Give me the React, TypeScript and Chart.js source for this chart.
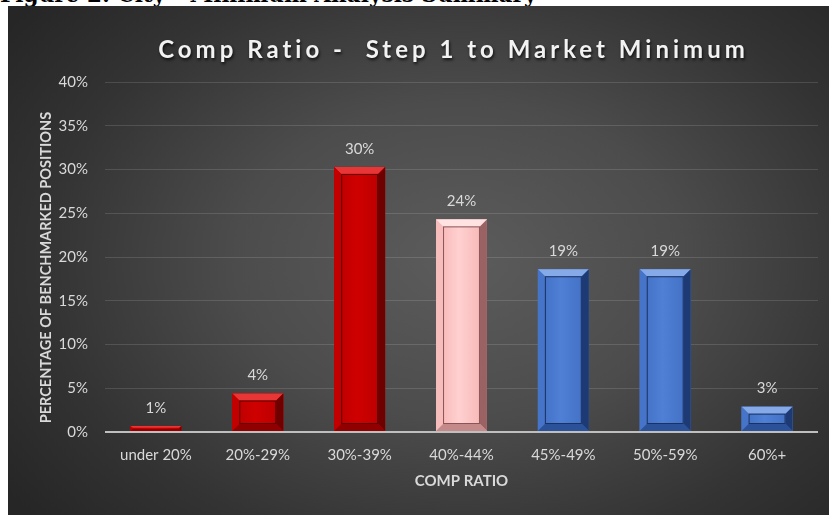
import React, { useEffect, useRef } from "react";
import { Chart, registerables } from "chart.js";

Chart.register(...registerables);

const CAPTION = "Figure 2: City - Minimum Analysis Summary";
const TITLE = "Comp Ratio -  Step 1 to Market Minimum";
const Y_AXIS_TITLE = "PERCENTAGE OF BENCHMARKED POSITIONS";
const X_AXIS_TITLE = "COMP RATIO";

const categories = ["under 20%", "20%-29%", "30%-39%", "40%-44%", "45%-49%", "50%-59%", "60%+"];
const percentValues = [0.7, 4.4, 30.3, 24.3, 18.6, 18.6, 2.9];
const yMin = 0;
const yMax = 40;
const yStep = 5;
const barGroups = ["red", "red", "red", "pink", "blue", "blue", "blue"];

const PALETTE: Record<string, any> = {
  red: { face: "#cf0000", face2: "#b80000", top: "#e83535", left: "#c20000", right: "#6e0000", bottom: "#900000", line: "#5a0000" },
  pink: { face: "#ffd0d0", face2: "#f6b2b2", top: "#ffe2e2", left: "#f7bcbc", right: "#9a6262", bottom: "#c48a8a", line: "#8a5555" },
  blue: { face: "#4f80d6", face2: "#3f6dc0", top: "#86aae8", left: "#4574c8", right: "#1d3a75", bottom: "#2b5198", line: "#1b3261" },
};

const FONT = "Lato, 'Open Sans', sans-serif";

const bevelPlugin = {
  id: "bevelBars",
  afterDatasetsDraw(chart: any) {
    const ctx = chart.ctx;
    const meta = chart.getDatasetMeta(0);
    meta.data.forEach((el: any, i: number) => {
      const p = el.getProps(["x", "y", "base", "width"], true);
      const L = p.x - p.width / 2;
      const R = p.x + p.width / 2;
      const T = Math.min(p.y, p.base);
      const B = Math.max(p.y, p.base);
      const h = B - T;
      const w = R - L;
      const b = Math.max(1.5, Math.min(7, h / 2.6, w / 5));
      const pal = PALETTE[barGroups[i]];
      ctx.save();
      const poly = (pts: number[][], color: string) => {
        ctx.beginPath();
        ctx.moveTo(pts[0][0], pts[0][1]);
        for (let k = 1; k < pts.length; k++) ctx.lineTo(pts[k][0], pts[k][1]);
        ctx.closePath();
        ctx.fillStyle = color;
        ctx.fill();
      };
      const g = ctx.createLinearGradient(L, 0, R, 0);
      g.addColorStop(0, pal.face2);
      g.addColorStop(0.45, pal.face);
      g.addColorStop(1, pal.face2);
      ctx.fillStyle = g;
      ctx.fillRect(L, T, w, h);
      poly([[L, T], [R, T], [R - b, T + b], [L + b, T + b]], pal.top);
      poly([[L, T], [L + b, T + b], [L + b, B - b], [L, B]], pal.left);
      poly([[R, T], [R, B], [R - b, B - b], [R - b, T + b]], pal.right);
      poly([[L, B], [R, B], [R - b, B - b], [L + b, B - b]], pal.bottom);
      if (h > 8) {
        ctx.strokeStyle = pal.line;
        ctx.lineWidth = 1;
        ctx.strokeRect(L + b + 0.5, T + b + 0.5, w - 2 * b - 1, h - 2 * b - 1);
      }
      ctx.restore();
    });
    ctx.save();
    ctx.font = `15px ${FONT}`;
    ctx.fillStyle = "#d9d9d9";
    ctx.textAlign = "center";
    ctx.textBaseline = "middle";
    meta.data.forEach((el: any, i: number) => {
      const p = el.getProps(["x", "y"], true);
      ctx.fillText(Math.round(percentValues[i]) + "%", p.x, p.y - 18);
    });
    ctx.restore();
  },
};

const titlePlugin = {
  id: "letterSpacedTitle",
  afterDraw(chart: any) {
    const ctx = chart.ctx;
    const area = chart.chartArea;
    ctx.save();
    ctx.font = `bold 24px ${FONT}`;
    (ctx as any).letterSpacing = "4px";
    ctx.textAlign = "center";
    ctx.textBaseline = "alphabetic";
    ctx.shadowColor = "rgba(0,0,0,0.75)";
    ctx.shadowBlur = 3;
    ctx.shadowOffsetX = 1;
    ctx.shadowOffsetY = 2;
    ctx.fillStyle = "#f2f2f2";
    ctx.fillText(TITLE, (area.left + area.right) / 2 - 8, 52);
    ctx.restore();
  },
};

export default function App() {
  const ref = useRef<HTMLCanvasElement>(null);
  useEffect(() => {
    if (!ref.current) return;
    const chart = new Chart(ref.current, {
      type: "bar",
      data: {
        labels: categories,
        datasets: [
          {
            data: percentValues,
            backgroundColor: barGroups.map((g) => PALETTE[g].face),
            borderWidth: 0,
            barPercentage: 0.5,
            categoryPercentage: 1,
          },
        ],
      },
      options: {
        responsive: false,
        animation: false,
        layout: { padding: { left: 0, right: 11, top: 76, bottom: 0 } },
        plugins: {
          legend: { display: false },
          title: { display: false },
          tooltip: { enabled: false },
        },
        scales: {
          x: {
            grid: { display: false, drawTicks: false },
            border: { display: false },
            ticks: { color: "#d9d9d9", font: { family: FONT, size: 15 }, padding: 14, maxRotation: 0 },
            title: {
              display: true,
              text: X_AXIS_TITLE,
              color: "#d9d9d9",
              font: { family: FONT, size: 15, weight: "bold" },
              padding: { top: 0, bottom: 24.5 },
            },
            afterFit: (s: any) => {
              s.height = 83;
            },
          },
          y: {
            min: yMin,
            max: yMax,
            grid: {
              drawTicks: false,
              color: (c: any) => (c.tick && c.tick.value === 0 ? "#bfbfbf" : "rgba(255,255,255,0.13)"),
              lineWidth: (c: any) => (c.tick && c.tick.value === 0 ? 2 : 1),
            },
            border: { display: false },
            ticks: {
              stepSize: yStep,
              color: "#d9d9d9",
              font: { family: FONT, size: 15 },
              padding: 17,
              callback: (v: any) => v + "%",
            },
            title: {
              display: true,
              text: Y_AXIS_TITLE + "\u00a0\u00a0\u00a0\u00a0\u00a0\u00a0",
              color: "#d9d9d9",
              font: { family: FONT, size: 14.5, weight: "bold" },
              padding: { top: 30, bottom: 0 },
            },
            afterFit: (s: any) => {
              s.width = 97;
            },
          },
        },
      } as any,
      plugins: [bevelPlugin, titlePlugin],
    });
    return () => chart.destroy();
  }, []);

  return (
    <div style={{ position: "absolute", left: 0, top: 0, width: 831, height: 515, overflow: "hidden", background: "#ffffff" }}>
      <div
        style={{
          position: "absolute",
          left: 0,
          top: -15,
          whiteSpace: "nowrap",
          fontFamily: "'DejaVu Serif', serif",
          fontWeight: "bold",
          fontSize: 21.6,
          lineHeight: "20px",
          color: "#000",
        }}
      >
        {CAPTION}
      </div>
      <div
        style={{
          position: "absolute",
          left: 8,
          top: 6,
          width: 821,
          height: 509,
          background: "radial-gradient(ellipse 68% 78% at 55% 50%, #5c5c5c 0%, #4c4c4c 40%, #333333 75%, #262626 100%)",
        }}
      >
        <canvas ref={ref} width={821} height={509} style={{ display: "block" }} />
      </div>
    </div>
  );
}
